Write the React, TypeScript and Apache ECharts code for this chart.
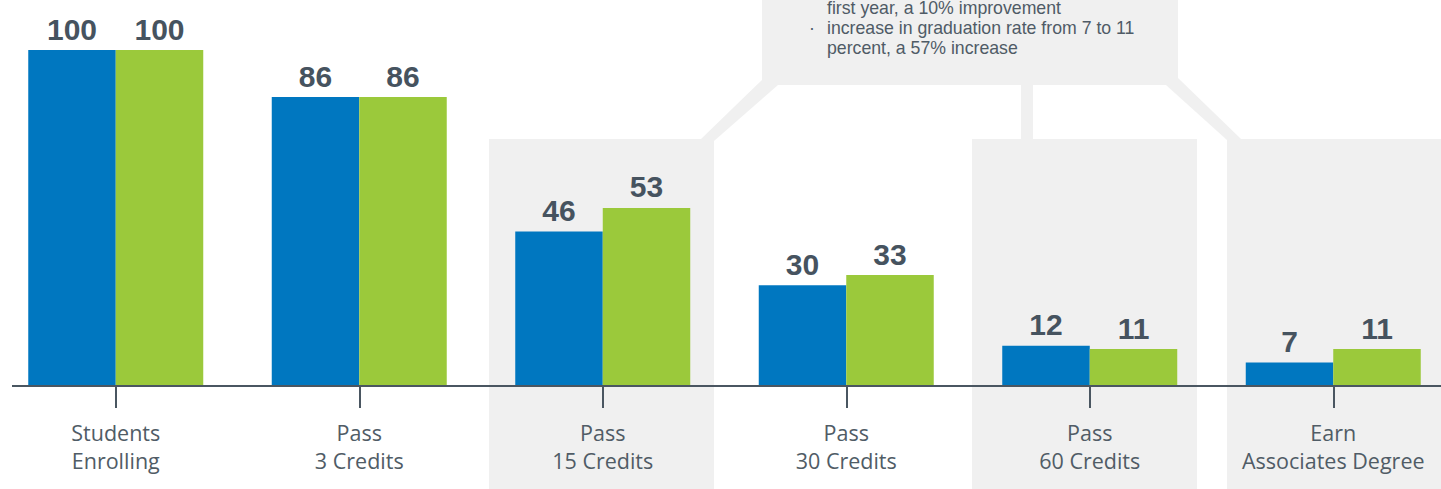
import React, { useEffect, useRef } from "react";
import * as echarts from "echarts";

const categories = [
  "Students\nEnrolling",
  "Pass\n3 Credits",
  "Pass\n15 Credits",
  "Pass\n30 Credits",
  "Pass\n60 Credits",
  "Earn\nAssociates Degree",
];
const baselineValues = [100, 86, 46, 30, 12, 7];
const pilotValues = [100, 86, 53, 33, 11, 11];
const calloutLines = [
  "first year, a 10% improvement",
  "increase in graduation rate from 7 to 11",
  "percent, a 57% increase",
];

const BLUE = "#0077c0";
const GREEN = "#9bc93b";
const PANEL = "#f0f0f0";
const DARK = "#46535f";
const AXIS = "#4a5661";
const OFF = 6; // the chart div starts 6px left of the page

export default function App() {
  const ref = useRef<HTMLDivElement>(null);
  useEffect(() => {
    if (!ref.current) return;
    const chart = echarts.init(ref.current, null, { renderer: "svg" });
    const labelStyle = {
      show: true,
      position: "top" as const,
      distance: 6,
      fontFamily: "Liberation Sans, Arial, sans-serif",
      fontWeight: "bold" as const,
      fontSize: 30,
      color: DARK,
    };
    const X = (v: number) => v + OFF;
    chart.setOption({
      animation: false,
      backgroundColor: "#ffffff",
      grid: { left: 0, right: 0, top: 50, bottom: 103, containLabel: false },
      xAxis: {
        type: "category",
        data: categories,
        axisLine: { show: false },
        axisTick: {
          show: true,
          alignWithLabel: true,
          length: 22,
          lineStyle: { color: AXIS, width: 2 },
        },
        axisLabel: {
          margin: 32,
          fontFamily: "Open Sans, sans-serif",
          fontSize: 21.5,
          lineHeight: 28,
          color: "#505c66",
          interval: 0,
        },
      },
      yAxis: { type: "value", min: 0, max: 100, show: false },
      series: [
        {
          name: "Cohort 1",
          type: "bar",
          data: baselineValues,
          barWidth: 87.5,
          barGap: "0%",
          itemStyle: { color: BLUE },
          label: labelStyle,
          z: 5,
        },
        {
          name: "Cohort 2",
          type: "bar",
          data: pilotValues,
          barWidth: 87.5,
          barGap: "0%",
          itemStyle: { color: GREEN },
          label: labelStyle,
          z: 5,
        },
      ],
      graphic: [
        { type: "rect", z: -10, shape: { x: X(489), y: 139, width: 225, height: 400 }, style: { fill: PANEL } },
        { type: "rect", z: -10, shape: { x: X(972), y: 139, width: 225, height: 400 }, style: { fill: PANEL } },
        { type: "rect", z: -10, shape: { x: X(1227), y: 139, width: 230, height: 400 }, style: { fill: PANEL } },
        { type: "rect", z: -10, shape: { x: X(762), y: -30, width: 416, height: 115 }, style: { fill: PANEL } },
        { type: "rect", z: -10, shape: { x: X(1021), y: 84, width: 12, height: 57 }, style: { fill: PANEL } },
        {
          type: "polygon",
          z: -10,
          shape: { points: [[X(762), 80], [X(778), 85], [X(714), 141], [X(701), 139]] },
          style: { fill: PANEL },
        },
        {
          type: "polygon",
          z: -10,
          shape: { points: [[X(1178), 78], [X(1241), 139], [X(1227), 140], [X(1166), 85]] },
          style: { fill: PANEL },
        },
        {
          type: "text",
          z: 10,
          x: X(827),
          y: -2,
          style: {
            text: calloutLines.join("\n"),
            font: "17.7px 'Liberation Sans', Arial, sans-serif",
            lineHeight: 20,
            fill: "#4f5b66",
            verticalAlign: "top",
            align: "left",
          },
        },
        {
          type: "text",
          z: 10,
          x: X(809),
          y: 18,
          style: {
            text: "·",
            font: "17.7px 'Liberation Sans', Arial, sans-serif",
            lineHeight: 20,
            fill: "#4f5b66",
            verticalAlign: "top",
            align: "left",
          },
        },
        {
          type: "line",
          z: 10,
          shape: { x1: X(12), y1: 386, x2: X(1445), y2: 386 },
          style: { stroke: AXIS, lineWidth: 2 },
        },
      ],
    });
    return () => chart.dispose();
  }, []);
  return (
    <div
      ref={ref}
      style={{ position: "fixed", left: -OFF, top: 0, width: 1461, height: 489 }}
    />
  );
}
